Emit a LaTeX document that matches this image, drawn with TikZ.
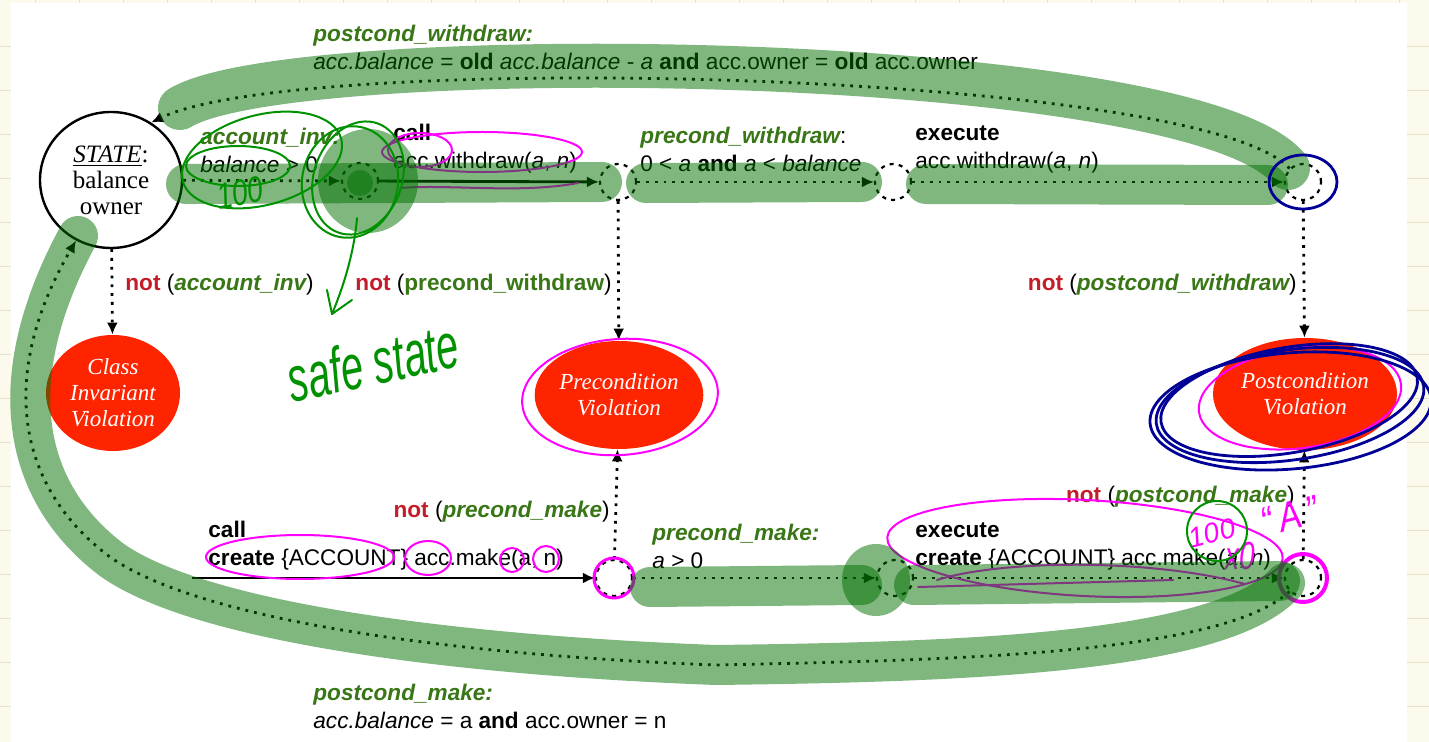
\documentclass[tikz,border=0pt]{standalone}
\usepackage{fontspec}
\setmainfont{Liberation Sans}
\newfontfamily\tms{Liberation Serif}
\usetikzlibrary{shapes.geometric,arrows.meta}
\definecolor{paper}{RGB}{252,250,236}
\definecolor{rule}{RGB}{230,226,204}
\definecolor{condgreen}{RGB}{56,118,22}
\definecolor{notred}{RGB}{196,28,40}
\definecolor{violred}{RGB}{255,36,0}
\definecolor{hl}{RGB}{0,112,0}
\definecolor{pengreen}{RGB}{0,145,0}
\definecolor{penpink}{RGB}{255,0,255}
\definecolor{penblue}{RGB}{0,0,150}
\newcommand{\cond}[1]{{\color{condgreen}\bfseries\itshape #1}}
\newcommand{\nt}{{\color{notred}\bfseries not}}
\begin{document}
\begin{tikzpicture}[x=0.5pt,y=-0.5pt,
  every node/.style={font=\fontsize{11.3}{14}\selectfont},
  lbl/.style={anchor=west,align=left,inner sep=0pt},
  lblr/.style={anchor=east,align=right,inner sep=0pt},
  statebox/.style={draw,ellipse,line width=1.2pt,minimum width=71pt,minimum height=68pt,inner sep=0pt,align=center,font=\tms\fontsize{12.5}{13}\selectfont},
  viol/.style={ellipse,fill=violred,text=white,inner sep=0pt,align=center,font=\tms\itshape\fontsize{11.5}{13}\selectfont},
  junc/.style={circle,draw,line width=1.1pt,dash pattern=on 2pt off 2.6pt,minimum size=18pt,inner sep=0pt},
  dotarr/.style={line width=1.4pt,dash pattern=on 1.4pt off 3pt,-{Latex[length=6pt,width=5.5pt]}},
  solarr/.style={line width=1.4pt,-{Latex[length=6pt,width=5.5pt]}},
  marker/.style={draw=hl,draw opacity=0.5,line width=20pt,line cap=round},
  blob/.style={fill=hl,fill opacity=0.5},
  pen/.style={line width=1pt,line cap=round,line join=round},
  hand/.style={inner sep=0pt,font=\itshape\fontsize{14}{14}\selectfont}]
\useasboundingbox (0,0) rectangle (1429,742);
% Papier
\fill[paper] (0,0) rectangle (1429,742);
\foreach \y in {46,90,...,742} {\draw[rule] (0,\y) -- (11,\y); \draw[rule] (1407,\y) -- (1429,\y);}
\foreach \x in {35,79,...,1407} \draw[rule] (\x,0) -- (\x,3);
\fill[white] (11,3) rectangle (1407,742);
% Etat
\node[statebox] (st) at (111,180) {\underline{\emph{STATE}}:\\balance\\owner};
% Violations
\node[viol,minimum width=67pt,minimum height=58pt] (civ) at (113,393) {Class\\Invariant\\Violation};
\node[viol,minimum width=83.5pt,minimum height=54pt] (prv) at (619,395) {Precondition\\Violation};
\node[viol,minimum width=92pt,minimum height=56pt] (pov) at (1305,394) {Postcondition\\Violation};
% Jonctions
\node[junc] (j1) at (360,181) {};
\node[junc] (j2) at (618,182) {};
\node[junc] (j3) at (893,182) {};
\node[junc] (j4) at (1303,182) {};
\node[junc] (j5) at (614,578) {};
\node[junc] (j6) at (895,578) {};
\node[junc] (j7) at (1303,578) {};
\coordinate (mk) at (192,578);
% withdraw
\draw[dotarr] (st) -- (j1);
\draw[solarr] (j1) -- (j2);
\draw[dotarr] (j2) -- (j3);
\draw[dotarr] (j3) -- (j4);
\draw[dotarr] (st) -- (civ);
\draw[dotarr] (j2) -- (prv);
\draw[dotarr] (j4) -- (pov);
\draw[dotarr] (j4.north west) .. controls (1200,70) and (300,50) .. (st.55);
% make
\draw[solarr] (mk) -- (j5);
\draw[dotarr] (j5) -- (prv);
\draw[dotarr] (j5) -- (j6);
\draw[dotarr] (j6) -- (j7);
\draw[dotarr] (j7) -- (pov);
\draw[dotarr] (j7.south west) .. controls (1220,655) and (950,660) .. (716,665) .. controls (450,655) and (200,620) .. (110,557) .. controls (20,490) and (-5,380) .. (st.240);
% Etiquettes
\node[lbl] (pwl) at (313,47) {\cond{postcond\_withdraw:}\\\emph{acc.balance} = \textbf{old} \emph{acc.balance} - \emph{a} \textbf{and} acc.owner = \textbf{old} acc.owner};
\node[lbl] (ail) at (200,150) {\cond{account\_inv:}\\\emph{balance} > 0};
\node[lbl] (cwl) at (393,149) {\textbf{call}\\acc.withdraw(\emph{a}, \emph{n})};
\node[lbl] (prwl) at (640,149) {\cond{precond\_withdraw}:\\0 < \emph{a} \textbf{and} \emph{a} < \emph{balance}};
\node[lbl] (ewl) at (915,149) {\textbf{execute}\\acc.withdraw(\emph{a}, \emph{n})};
\node[lbl] (nail) at (125,285) {\nt{} (\cond{account\_inv})};
\node[lblr] (nprwl) at (612,285) {\nt{} ({\color{condgreen}\bfseries precond\_withdraw})};
\node[lblr] (npowl) at (1297,285) {\nt{} (\cond{postcond\_withdraw})};
\node[lblr] (nprml) at (610,512) {\nt{} (\cond{precond\_make})};
\node[lblr] (npoml) at (1295,497) {\nt{} (\cond{postcond\_make})};
\node[lbl] (cml) at (208,546) {\textbf{call}\\\textbf{create} \{ACCOUNT\} acc.make(a, n)};
\node[lbl] (prml) at (652,546) {\cond{precond\_make:}\\\emph{a} > 0};
\node[lbl] (eml) at (915,546) {\textbf{execute}\\\textbf{create} \{ACCOUNT\} acc.make(\emph{a}, \emph{n})};
\node[lbl] (pml) at (313,706) {\cond{postcond\_make:}\\\emph{acc.balance} = a \textbf{and} acc.owner = n};
% Feutre rose
\draw[pen,penpink] (482,152) ellipse (100 and 20);
\draw[pen,penpink] (420,150) ellipse (32 and 17);
\draw[pen,penpink,rotate around={4:(620,397)}] (620,397) ellipse (98 and 58);
\draw[pen,penpink] (300,557) ellipse (94 and 22);
\draw[pen,penpink] (428,558) ellipse (23 and 17);
\draw[pen,penpink] (512,560) circle (12);
\draw[pen,penpink] (546,559) circle (13);
\draw[pen,penpink,line width=1.5pt] (j5) circle (20);
\draw[pen,penpink,rotate around={-3:(1085,548)}] (1085,548) ellipse (198 and 48);
\draw[pen,penpink] (918,587) -- (1173,580);
\draw[pen,penpink] (937,580) .. controls (1000,560) and (1150,558) .. (1245,584);
\draw[pen,penpink] (400,188) .. controls (450,184) and (520,194) .. (578,183);
\draw[pen,penpink,line width=2pt] (j7) circle (24);
\draw[pen,penpink,rotate around={8:(1300,398)}] (1300,398) ellipse (102 and 50);
\node[hand,text=penpink,rotate=15] (cent) at (1212,533) {100};
\node[hand,text=penpink,yscale=1.4] (xo) at (1240,556) {x0};
\node[hand,text=penpink,font=\itshape\fontsize{17}{17}\selectfont,rotate=15,yscale=1.2] (quoteA) at (1290,516) {“\hspace{3pt}A\hspace{3pt}”};
% Surligneur
\draw[marker,line width=22pt] (180,108) .. controls (290,40) and (1190,50) .. (1288,168);
\draw[marker] (186,184) -- (602,182);
\draw[marker] (646,183) -- (862,182);
\draw[marker] (926,184) -- (1268,185);
\fill[blob] (368,181) ellipse (50 and 52);
\fill[blob] (360,183) circle (13);
\draw[marker] (650,587) -- (862,585);
\draw[marker] (914,585) -- (1280,581);
\fill[blob] (876,580) ellipse (34 and 36);
\draw[marker] (1285,583) .. controls (1220,655) and (950,662) .. (716,665) .. controls (450,655) and (200,622) .. (112,560) .. controls (22,492) and (0,380) .. (78,236);
% Feutre vert
\draw[pen,pengreen,rotate around={15:(262,160)}] (262,160) ellipse (82 and 45);
\draw[pen,pengreen] (238,166) ellipse (52 and 20);
\draw[pen,pengreen,rotate around={-10:(350,182)}] (350,182) ellipse (48 and 56);
\draw[pen,pengreen,rotate around={-20:(358,178)}] (358,178) ellipse (44 and 58);
\draw[pen,pengreen] (357,218) .. controls (354,255) and (342,290) .. (332,314);
\draw[pen,pengreen] (327,290) -- (332,314) -- (352,300);
\draw[pen,pengreen] (1217,531) circle (30);
\node[hand,text=pengreen,rotate=10,yscale=1.3] (cent2) at (240,193) {100};
\node[hand,text=pengreen,font=\itshape\fontsize{20}{20}\selectfont,rotate=12,yscale=1.6] (safe) at (373,362) {safe state};
% Feutre bleu
\draw[pen,penblue,line width=1.4pt] (j4) ellipse (34 and 27);
\foreach \r/\a in {0/8,6/5,-5/10}
  \draw[pen,penblue,line width=1.4pt,rotate around={\a:(1290,405)}] (1290,405+\r) ellipse [x radius={135+\r}, y radius={55+\r/2}];
\end{tikzpicture}
\end{document}
